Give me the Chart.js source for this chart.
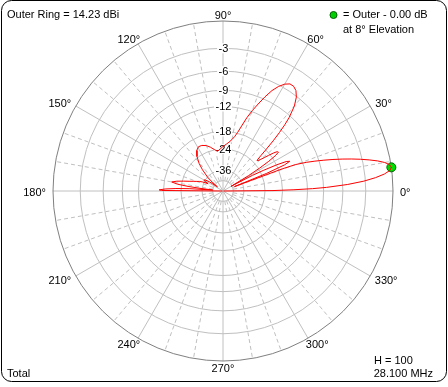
<!DOCTYPE html>
<html>
<head>
<meta charset="utf-8">
<script src="https://cdn.jsdelivr.net/npm/chart.js@4"></script>
<style>
  html, body { margin: 0; padding: 0; background: #fff; }
  canvas { display: block; }
</style>
</head>
<body>
<canvas id="myChart" width="448" height="387"></canvas>
<script>
// elevation pattern (degrees / dB below outer ring)
const elevation = [0, 0.5, 1, 1.5, 2, 3, 4, 5, 6, 7, 8, 9, 10, 11, 12, 13, 14, 15, 16, 17, 18, 19, 20, 20.5, 21,
    22, 23, 24, 25, 26, 27, 28, 29, 30, 31, 32, 33, 34, 35, 36, 37, 38, 39, 40, 41, 42, 43, 44, 45, 46, 47, 48,
    50, 52, 54, 56, 58, 60, 62, 64, 66, 68, 70, 72, 74, 76, 78, 80, 83, 86, 90, 94, 98, 102, 106, 110, 115, 119,
    123, 127, 131, 134, 138, 141, 143, 146, 148, 150, 152, 154, 156, 158, 160, 162, 164, 166, 168, 170, 171.5,
    172.5, 173.5, 174.5, 176, 177, 178, 179, 179.5, 180];
const gainDb = [-99, -21, -15, -11, -8.5, -5.3, -3.2, -1.8, -0.8, -0.2, 0, -0.15, -0.6, -1.3, -2.2, -3.2, -4.3, -5.5, -6.8, -8.2, -9.7, -11.3, -13.5, -17, -45,
    -22, -16, -14.5, -15.3, -18, -22.5, -28, -40, -50, -30, -23.5, -19.5, -17, -15.8, -16, -17, -18.5, -20, -21.3, -22.3, -22.5, -20.5, -17.8, -15, -12.7, -10.8, -9.3,
    -7.3, -6.1, -5.4, -5.1, -5.1, -5.5, -6.2, -7.2, -8.6, -10.2, -11.8, -13.6, -15.8, -17.8, -19.2, -20.2, -21.3, -22.1, -23, -24, -24.8, -23.8, -22.6, -21.6, -20.9, -20.8,
    -21.6, -23.5, -26.5, -30, -36, -44, -55, -40, -36, -35, -36.5, -40, -35, -32.5, -31, -29, -27, -24.5, -22, -20.3, -22.5,
    -27, -35, -48, -28, -22, -18.5, -16.8, -17.5, -99];

const ringDb = [0, -3, -6, -9, -12, -18, -24, -36, -48];
const ringLabels = ['', '-3', '-6', '-9', '-12', '-18', '-24', '-36', ''];
const angleTicks = [0, 30, 60, 90, 120, 150, 180, 210, 240, 270, 300, 330];

const outerRing = 14.23;
const peakElevation = 8;
const peakDb = 0.00;
const heightText = 'H = 100';
const freqText = '28.100 MHz';

// ARRL log scale: 0.89 of radius per 2 dB
function radius(db) {
    return Math.pow(0.89, -db / 2);
}
function toXY(deg, db) {
    const r = radius(db), a = deg * Math.PI / 180;
    return { x: r * Math.cos(a), y: r * Math.sin(a) };
}

const FONT = '11px "Liberation Sans", Arial, sans-serif';

const polarGrid = {
    id: 'polarGrid',
    beforeDraw(chart) {
        const ctx = chart.ctx;
        ctx.save();
        ctx.fillStyle = '#fff';
        ctx.fillRect(0, 0, chart.width, chart.height);
        ctx.restore();
    },
    beforeDatasetsDraw(chart) {
        const { ctx, scales: { x, y } } = chart;
        const cx = x.getPixelForValue(0), cy = y.getPixelForValue(0);
        const R = x.getPixelForValue(1) - cx;
        const rIn = radius(ringDb[ringDb.length - 1]) * R;
        ctx.save();
        ctx.lineWidth = 1;

        // spokes every 10 deg, solid on the 30s
        for (let a = 0; a < 360; a += 10) {
            const t = a * Math.PI / 180;
            const solid = a % 30 === 0;
            ctx.strokeStyle = '#c0c0c0';
            ctx.setLineDash(solid ? [] : [4, 3]);
            const r0 = solid ? 0 : rIn;
            ctx.beginPath();
            ctx.moveTo(cx + r0 * Math.cos(t), cy - r0 * Math.sin(t));
            ctx.lineTo(cx + R * Math.cos(t), cy - R * Math.sin(t));
            ctx.stroke();
        }
        ctx.setLineDash([]);

        // rings
        ringDb.forEach((db, i) => {
            ctx.strokeStyle = i === 0 ? '#808080' : '#c0c0c0';
            ctx.beginPath();
            ctx.arc(cx, cy, radius(db) * R, 0, Math.PI * 2);
            ctx.stroke();
        });

        // dB labels up the 90 deg spoke
        ctx.font = FONT;
        ctx.textAlign = 'center';
        ctx.textBaseline = 'middle';
        ringDb.forEach((db, i) => {
            if (!ringLabels[i]) return;
            const ly = cy - radius(db) * R;
            const w = ctx.measureText(ringLabels[i]).width;
            ctx.fillStyle = '#fff';
            ctx.fillRect(cx - w / 2 - 1, ly - 5, w + 2, 10);
            ctx.fillStyle = '#000';
            ctx.fillText(ringLabels[i], cx + 0.5, ly + 0.5);
        });

        // angle labels
        angleTicks.forEach(a => {
            const t = a * Math.PI / 180;
            const txt = a + '°';
            const hw = ctx.measureText(txt).width / 2;
            const lx = cx + Math.cos(t) * (R + 7 + hw);
            const ly = cy + 1.5 - Math.sin(t) * (R + 6.5);
            ctx.fillText(txt, lx, ly);
        });
        ctx.restore();
    },
    afterDraw(chart) {
        const ctx = chart.ctx;
        ctx.save();
        // rounded frame
        ctx.strokeStyle = '#000';
        ctx.lineWidth = 1;
        ctx.beginPath();
        ctx.roundRect(1.5, 0.5, 445, 381, 10);
        ctx.stroke();

        ctx.font = FONT;
        ctx.fillStyle = '#000';
        ctx.textBaseline = 'middle';
        ctx.textAlign = 'left';
        ctx.fillText('Outer Ring = ' + outerRing.toFixed(2) + ' dBi', 7, 15);
        ctx.fillText('= Outer - ' + Math.abs(peakDb).toFixed(2) + ' dB', 343, 15);
        ctx.fillText('at ' + peakElevation + '° Elevation', 343, 29.5);
        ctx.fillText('Total', 7, 373.5);
        ctx.fillText(heightText, 374, 360.5);
        ctx.textAlign = 'right';
        ctx.fillText(freqText, 433, 373.5);

        // legend dot
        ctx.beginPath();
        ctx.arc(333.5, 15, 3.5, 0, Math.PI * 2);
        ctx.fillStyle = '#00d000';
        ctx.fill();
        ctx.strokeStyle = '#006000';
        ctx.stroke();
        ctx.restore();
    }
};

const ctx = document.getElementById('myChart');

new Chart(ctx, {
    type: 'scatter',
    data: {
        datasets: [{
            data: elevation.map((a, i) => toXY(a, gainDb[i])),
            showLine: true,
            borderColor: '#ff0000',
            borderWidth: 1,
            pointRadius: 0,
            tension: 0,
            clip: false
        }, {
            data: [toXY(peakElevation, peakDb)],
            pointRadius: 4.5,
            backgroundColor: '#00dd00',
            borderColor: '#006400',
            borderWidth: 1,
            clip: false
        }]
    },
    options: {
        responsive: false,
        animation: false,
        layout: { padding: { left: 53, right: 55, top: 21, bottom: 26 } },
        plugins: {
            legend: { display: false },
            tooltip: { enabled: false }
        },
        scales: {
            x: { type: 'linear', min: -1, max: 1, display: false },
            y: { type: 'linear', min: -1, max: 1, display: false }
        }
    },
    plugins: [polarGrid]
});
</script>
</body>
</html>
